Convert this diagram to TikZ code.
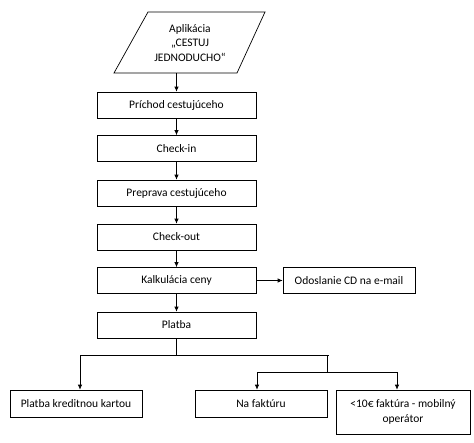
\documentclass[tikz,border=0pt]{standalone}
\usepackage{fontspec}
\setmainfont{Carlito}
\usetikzlibrary{arrows.meta}
\begin{document}
\begin{tikzpicture}[x=1pt,y=-1pt,
  txt/.style={font=\fontsize{11.5}{14.5}\selectfont, align=center, inner sep=1pt},
  box/.style={txt, draw, line width=0.7pt, minimum width=159pt, minimum height=26pt},
  arr/.style={-{Latex[length=5pt,width=4.5pt]}, line width=0.7pt},
  ln/.style={line width=0.7pt}]
\useasboundingbox (0,0) rectangle (474,442);
\fill[white] (0,0) rectangle (474,442);
% input parallelogram
\coordinate (pa) at (148,12);
\coordinate (pb) at (265,12);
\coordinate (pc) at (237,73);
\coordinate (pd) at (114,73);
\draw[ln] (pa) -- (pb) -- (pc) -- (pd) -- cycle;
\node[txt] (app) at (190,43) {Aplikácia\\„CESTUJ\\JEDNODUCHO“};
\coordinate (appout) at (176.5,73);
% main chain
\node[box] (p1) at (176.5,105) {Príchod cestujúceho};
\node[box] (p2) at (176.5,148.5) {Check-in};
\node[box] (p3) at (176.5,193) {Preprava cestujúceho};
\node[box] (p4) at (176.5,237) {Check-out};
\node[box] (p5) at (176.5,280.5) {Kalkulácia ceny};
\node[box] (p6) at (176.5,325) {Platba};
\node[box, minimum width=132pt] (mail) at (349,280.5) {Odoslanie CD na e-mail};
\draw[arr] (appout) -- (p1.north);
\draw[arr] (p1.south) -- (p2.north);
\draw[arr] (p2.south) -- (p3.north);
\draw[arr] (p3.south) -- (p4.north);
\draw[arr] (p4.south) -- (p5.north);
\draw[arr] (p5.south) -- (p6.north);
\draw[arr] (p5.east) -- (mail.west);
% payment options
\node[box, minimum width=132pt, minimum height=27pt] (card) at (76,403.5) {Platba kreditnou kartou};
\node[box, minimum width=132pt, minimum height=27pt] (inv) at (261,403.5) {Na faktúru};
\node[box, minimum width=134pt, minimum height=44pt] (mob) at (403,412) {<10€ faktúra - mobilný\\operátor};
\coordinate (j1) at (176.5,355);
\coordinate (jl) at (80,355);
\coordinate (jr) at (329,355);
\coordinate (j2) at (327,355);
\coordinate (j3) at (327,372);
\coordinate (kl) at (257,372);
\coordinate (kr) at (397,372);
\draw[ln] (p6.south) -- (j1);
\draw[ln] (jl) -- (jr);
\draw[ln] (j2) -- (j3);
\draw[ln] (kl) -- (kr);
\draw[arr] (jl) -- (jl |- card.north);
\draw[arr] (kl) -- (kl |- inv.north);
\draw[arr] (kr) -- (kr |- mob.north);
\end{tikzpicture}
\end{document}
